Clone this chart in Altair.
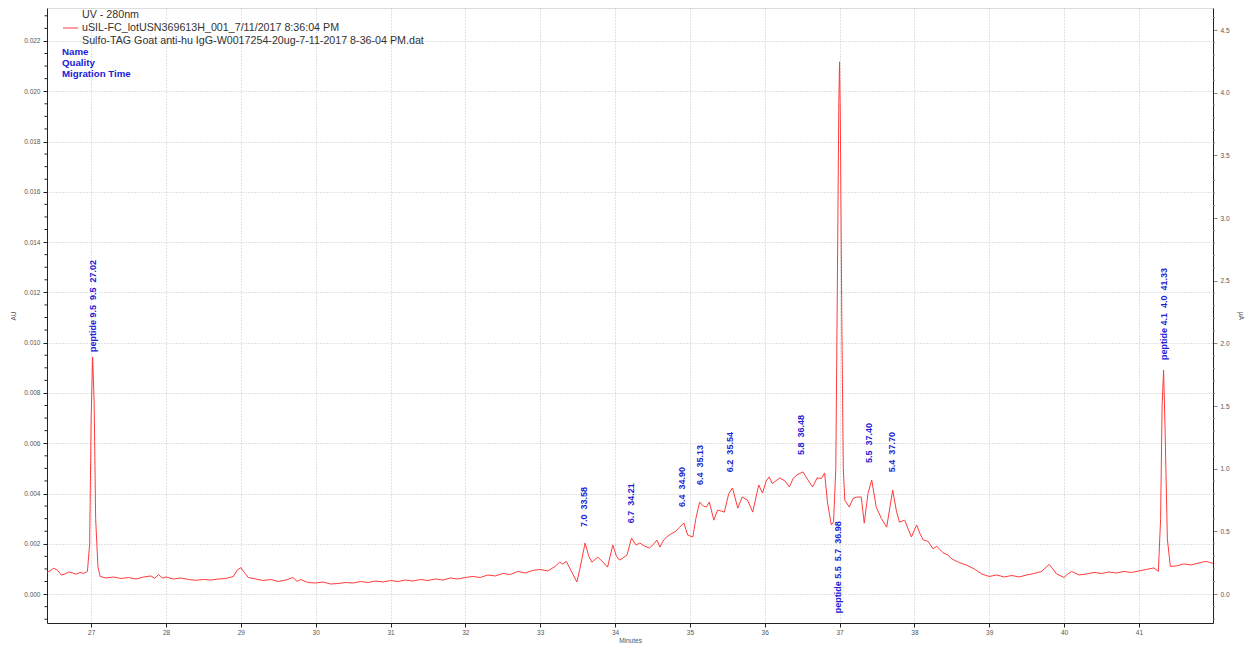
import altair as alt
import pandas as pd

# ---------------- data ----------------
time_min = [
    26.40, 26.45, 26.50, 26.55, 26.60, 26.65, 26.70, 26.75, 26.80, 26.85, 26.90, 26.95,
    26.98, 27.00, 27.02, 27.04, 27.06, 27.09, 27.12, 27.20, 27.30, 27.40, 27.50, 27.60,
    27.70, 27.80, 27.85, 27.90, 27.95, 28.00, 28.10, 28.20, 28.30, 28.40, 28.50, 28.60,
    28.70, 28.80, 28.90, 28.95, 29.00, 29.05, 29.10, 29.20, 29.30, 29.40, 29.50, 29.60,
    29.70, 29.75, 29.80, 29.90, 30.00, 30.10, 30.20, 30.30, 30.40, 30.50, 30.60, 30.70,
    30.80, 30.90, 31.00, 31.10, 31.20, 31.30, 31.40, 31.50, 31.60, 31.70, 31.80, 31.90,
    32.00, 32.10, 32.20, 32.30, 32.40, 32.50, 32.60, 32.70, 32.80, 32.90, 33.00, 33.10,
    33.20, 33.26, 33.30, 33.35, 33.40, 33.49, 33.53, 33.60, 33.65, 33.69, 33.77, 33.84,
    33.90, 33.97, 34.02, 34.06, 34.16, 34.22, 34.28, 34.33, 34.40, 34.46, 34.52, 34.56,
    34.60, 34.65, 34.69, 34.75, 34.80, 34.86, 34.92, 34.97, 35.04, 35.08, 35.13, 35.18,
    35.22, 35.26, 35.32, 35.37, 35.42, 35.46, 35.52, 35.57, 35.64, 35.70, 35.77, 35.84,
    35.92, 35.97, 36.02, 36.06, 36.10, 36.13, 36.20, 36.27, 36.33, 36.38, 36.43, 36.51,
    36.56, 36.64, 36.70, 36.76, 36.80, 36.84, 36.89, 36.92, 36.95, 36.97, 36.99, 37.00,
    37.01, 37.03, 37.05, 37.07, 37.13, 37.18, 37.23, 37.29, 37.33, 37.38, 37.43, 37.49,
    37.56, 37.63, 37.71, 37.76, 37.80, 37.87, 37.96, 38.03, 38.07, 38.12, 38.18, 38.25,
    38.30, 38.38, 38.45, 38.50, 38.60, 38.70, 38.80, 38.90, 39.00, 39.10, 39.20, 39.30,
    39.40, 39.50, 39.60, 39.70, 39.80, 39.85, 39.90, 40.00, 40.05, 40.10, 40.20, 40.30,
    40.40, 40.50, 40.60, 40.70, 40.80, 40.90, 41.00, 41.10, 41.20, 41.26, 41.29, 41.31,
    41.33, 41.35, 41.38, 41.42, 41.50, 41.60, 41.70, 41.80, 41.90, 41.99,
]
signal_au = [
    0.00085, 0.00092, 0.00103, 0.00095, 0.00076, 0.00080, 0.00088, 0.00084, 0.00079, 0.00086, 0.00082, 0.00090,
    0.00200, 0.00700, 0.00943, 0.00760, 0.00300, 0.00110, 0.00070, 0.00064, 0.00068, 0.00062, 0.00066, 0.00060,
    0.00068, 0.00072, 0.00062, 0.00078, 0.00064, 0.00068, 0.00060, 0.00064, 0.00058, 0.00055, 0.00058, 0.00056,
    0.00060, 0.00062, 0.00070, 0.00095, 0.00105, 0.00085, 0.00066, 0.00060, 0.00054, 0.00058, 0.00050, 0.00056,
    0.00066, 0.00050, 0.00058, 0.00046, 0.00044, 0.00048, 0.00040, 0.00042, 0.00046, 0.00044, 0.00050, 0.00046,
    0.00052, 0.00048, 0.00054, 0.00050, 0.00056, 0.00052, 0.00058, 0.00054, 0.00060, 0.00056, 0.00064, 0.00060,
    0.00066, 0.00070, 0.00066, 0.00076, 0.00072, 0.00082, 0.00078, 0.00090, 0.00084, 0.00094, 0.00098, 0.00092,
    0.00110, 0.00127, 0.00120, 0.00130, 0.00100, 0.00048, 0.00100, 0.00203, 0.00150, 0.00127, 0.00147, 0.00127,
    0.00107, 0.00195, 0.00150, 0.00135, 0.00155, 0.00223, 0.00195, 0.00203, 0.00190, 0.00183, 0.00200, 0.00215,
    0.00187, 0.00215, 0.00227, 0.00240, 0.00247, 0.00265, 0.00283, 0.00235, 0.00227, 0.00300, 0.00366, 0.00350,
    0.00346, 0.00366, 0.00294, 0.00334, 0.00330, 0.00326, 0.00400, 0.00422, 0.00342, 0.00386, 0.00374, 0.00326,
    0.00434, 0.00402, 0.00450, 0.00466, 0.00440, 0.00446, 0.00462, 0.00450, 0.00426, 0.00460, 0.00474, 0.00486,
    0.00462, 0.00426, 0.00462, 0.00460, 0.00482, 0.00362, 0.00275, 0.00287, 0.00500, 0.01200, 0.01950, 0.02117,
    0.01900, 0.01100, 0.00500, 0.00374, 0.00346, 0.00380, 0.00386, 0.00386, 0.00282, 0.00400, 0.00454, 0.00346,
    0.00300, 0.00266, 0.00414, 0.00330, 0.00286, 0.00294, 0.00227, 0.00275, 0.00243, 0.00215, 0.00210, 0.00180,
    0.00190, 0.00165, 0.00155, 0.00140, 0.00125, 0.00115, 0.00100, 0.00080, 0.00070, 0.00076, 0.00068, 0.00074,
    0.00068, 0.00076, 0.00082, 0.00090, 0.00118, 0.00100, 0.00080, 0.00066, 0.00080, 0.00090, 0.00076, 0.00080,
    0.00086, 0.00082, 0.00088, 0.00084, 0.00090, 0.00086, 0.00092, 0.00098, 0.00104, 0.00090, 0.00300, 0.00750,
    0.00891, 0.00650, 0.00220, 0.00110, 0.00112, 0.00120, 0.00116, 0.00124, 0.00130, 0.00122,
]

SP = "\u00a0\u00a0"
peak_time = [27.02, 33.58, 34.21, 34.90, 35.13, 35.54, 36.48, 36.98, 37.40, 37.70, 41.33]
peak_label = [
    "peptide 9.5" + SP + "9.5" + SP + "27.02", "7.0" + SP + "33.58", "6.7" + SP + "34.21",
    "6.4" + SP + "34.90", "6.4" + SP + "35.13", "6.2" + SP + "35.54", "5.8" + SP + "36.48",
    "peptide 5.5" + SP + "5.7" + SP + "36.98", "5.5" + SP + "37.40", "5.4" + SP + "37.70",
    "peptide 4.1" + SP + "4.0" + SP + "41.33",
]
label_au = [0.00963, 0.00267, 0.00282, 0.00346, 0.00434, 0.00485, 0.00553, -0.00076, 0.00521, 0.00485, 0.00931]

x_ticks = [27, 28, 29, 30, 31, 32, 33, 34, 35, 36, 37, 38, 39, 40, 41]
left_major = [0.000, 0.002, 0.004, 0.006, 0.008, 0.010, 0.012, 0.014, 0.016, 0.018, 0.020, 0.022]
left_minor = [round(-0.001 + 0.0005 * i, 4) for i in range(49) if i % 4 != 2]
right_major = [0.0, 0.5, 1.0, 1.5, 2.0, 2.5, 3.0, 3.5, 4.0, 4.5]
right_minor = [round(-0.2 + 0.1 * i, 1) for i in range(49) if (i - 2) % 5 != 0]

legend_lines = [
    "UV - 280nm",
    "uSIL-FC_lotUSN369613H_001_7/11/2017 8:36:04 PM",
    "Sulfo-TAG Goat anti-hu IgG-W0017254-20ug-7-11-2017 8-36-04 PM.dat",
]
header_fields = ["Name", "Quality", "Migration Time"]

# ---------------- chart ----------------
RED = "#ff3b3b"
BLUE = "#2020d8"
FONT = "Liberation Sans"
W, H = 1166, 615

trace_df = pd.DataFrame({"t": time_min, "au": signal_au})
peaks_df = pd.DataFrame({"t": peak_time, "au": label_au, "label": peak_label})
lminor_df = pd.DataFrame({"au": left_minor})
right_df = pd.DataFrame({"t": [27.0, 41.0], "ua": [0.0, 4.5]})
rminor_df = pd.DataFrame({"ua": right_minor})
one_row = pd.DataFrame({"k": [0]})

xscale = alt.Scale(domain=[26.41, 41.99], nice=False, zero=False)
yscale = alt.Scale(domain=[-0.00115, 0.02331], nice=False, zero=False)
rscale = alt.Scale(domain=[-0.231, 4.676], nice=False, zero=False)

x_axis = alt.Axis(
    values=x_ticks, format="d", title="Minutes", grid=True, gridDash=[1, 2],
    gridColor="#c4c4c4", labelFontSize=6.5, labelColor="#555", labelFont=FONT,
    tickSize=4, labelPadding=2, titleFontSize=6.5, titleFontWeight="normal",
    titleColor="#555", titleFont=FONT, titlePadding=2, domainColor="#222",
    tickColor="#222", labelOverlap=False,
)
y_axis = alt.Axis(
    values=left_major, format=".3f", title="AU", grid=True, gridDash=[1, 2],
    gridColor="#c4c4c4", tickSize=4,
    labelFontSize=6.5, labelColor="#555", labelFont=FONT, labelPadding=3,
    labelOverlap=False, labelFlush=False, titleFontSize=6.5, titleFontWeight="normal",
    titleColor="#555", titleFont=FONT, titlePadding=7, domainColor="#222", tickColor="#222",
)
r_axis = alt.Axis(
    values=right_major, format=".1f", orient="right", title="µA", grid=False,
    tickSize=4, labelFontSize=6.5, labelColor="#555", labelFont=FONT, labelPadding=3,
    labelOverlap=False, labelFlush=False, titleFontSize=6.5, titleFontWeight="normal",
    titleColor="#555", titleFont=FONT, titlePadding=8, domainColor="#222", tickColor="#888",
)

trace = alt.Chart(trace_df).mark_line(color=RED, strokeWidth=1, clip=True).encode(
    x=alt.X("t:Q", scale=xscale, axis=x_axis),
    y=alt.Y("au:Q", scale=yscale, axis=y_axis),
)

lminor = alt.Chart(lminor_df).mark_rule(color="#222", strokeWidth=1).encode(
    y=alt.Y("au:Q", scale=yscale, title="AU"),
    x=alt.value(-2.5), x2=alt.value(0),
)

labels = alt.Chart(peaks_df).mark_text(
    angle=270, align="left", baseline="middle", color=BLUE, font=FONT,
    fontSize=9, fontWeight="bold",
).encode(
    x=alt.X("t:Q", scale=xscale, title="Minutes"),
    y=alt.Y("au:Q", scale=yscale, title="AU"),
    text="label:N",
)

legend_layers = []
legend_y = [7, 20, 33]
for txt, yy in zip(legend_lines, legend_y):
    legend_layers.append(
        alt.Chart(one_row).mark_text(
            align="left", baseline="middle", font=FONT, fontSize=10.7, color="#333"
        ).encode(x=alt.value(35), y=alt.value(yy), text=alt.value(txt))
    )
legend_layers.append(
    alt.Chart(one_row).mark_rule(color=RED, strokeWidth=1).encode(
        x=alt.value(16), x2=alt.value(31), y=alt.value(20)
    )
)
header_y = [44, 55, 66]
for txt, yy in zip(header_fields, header_y):
    legend_layers.append(
        alt.Chart(one_row).mark_text(
            align="left", baseline="middle", font=FONT, fontSize=9.7,
            fontWeight="bold", color=BLUE,
        ).encode(x=alt.value(15), y=alt.value(yy), text=alt.value(txt))
    )

left_part = alt.layer(trace, lminor, labels, *legend_layers)

right_axis_layer = alt.Chart(right_df).mark_point(opacity=0).encode(
    x=alt.X("t:Q", scale=xscale, title="Minutes"),
    y=alt.Y("ua:Q", scale=rscale, axis=r_axis),
)
rminor = alt.Chart(rminor_df).mark_rule(color="#888", strokeWidth=1).encode(
    y=alt.Y("ua:Q", scale=rscale, title="µA"),
    x=alt.value(W), x2=alt.value(W + 2),
)
right_part = alt.layer(right_axis_layer, rminor)

chart = alt.layer(left_part, right_part).resolve_scale(y="independent").properties(
    width=W, height=H,
    autosize=alt.AutoSizeParams(type="none"),
    padding={"left": 39, "top": 0, "right": 32, "bottom": 25},
).configure_view(stroke="#444", strokeWidth=1).configure(background="white")

chart.save("out.html", embed_options={"renderer": "svg", "actions": False})
